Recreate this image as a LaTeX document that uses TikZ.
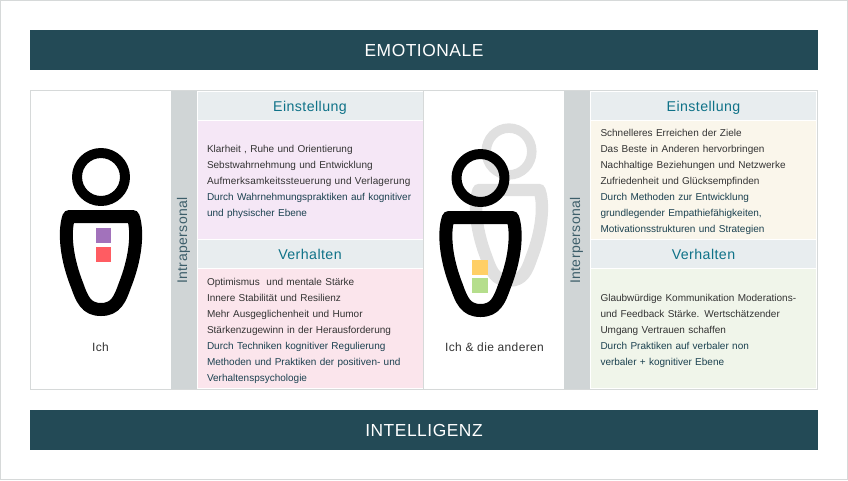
\documentclass[tikz,border=0pt]{standalone}
\usepackage{fontspec}
\setmainfont{Liberation Sans}
\newfontfamily\spacedfont[LetterSpace=3]{Liberation Sans}
\usepackage{tikz}
\definecolor{bandcol}{HTML}{234A56}
\definecolor{rulecol}{HTML}{D6D9D9}
\definecolor{barcol}{HTML}{D0D5D6}
\definecolor{headcol}{HTML}{E8EDEF}
\definecolor{headtxt}{HTML}{0F7288}
\definecolor{lilacbox}{HTML}{F5E7F6}
\definecolor{rosebox}{HTML}{FBE5EC}
\definecolor{creambox}{HTML}{FAF6EB}
\definecolor{greenbox}{HTML}{F0F5EA}
\definecolor{darktxt}{HTML}{333333}
\definecolor{tealtxt}{HTML}{1B4150}
\definecolor{purplechip}{HTML}{A272BB}
\definecolor{redchip}{HTML}{FF5C62}
\definecolor{orangechip}{HTML}{FFCF66}
\definecolor{greenchip}{HTML}{B5DE8C}
\tikzstyle{band}=[fill=bandcol, text=white, inner sep=0, minimum width=788pt, minimum height=40pt, text height=12.5pt, text depth=0pt, font=\spacedfont\fontsize{17.4}{20}\selectfont]
\tikzstyle{sidebar}=[fill=barcol, inner sep=0, minimum width=26pt, minimum height=298pt]
\tikzstyle{sidetext}=[rotate=90, text=tealtxt!85, inner sep=0, font=\spacedfont\fontsize{14}{16}\selectfont]
\tikzstyle{headbox}=[fill=headcol, text=headtxt, inner sep=0, minimum width=225pt, minimum height=28pt, text height=11pt, text depth=0pt, font=\spacedfont\fontsize{14.2}{16}\selectfont]
\tikzstyle{textbox}=[inner sep=0, minimum width=225pt, text width=206pt, align=left, text=darktxt, font=\fontsize{10}{16}\selectfont, execute at begin node={\rule{0pt}{11.5pt}\ignorespaces}]
\tikzstyle{caption}=[inner sep=0, text=darktxt, font=\spacedfont\fontsize{12}{14}\selectfont]
\tikzstyle{chip}=[inner sep=0, minimum width=15.5pt, minimum height=15pt]
\newcommand{\personfig}[4]{%
  \begin{scope}[shift={(#1,#2)}, xscale=#4, yscale={(1+#4)/2}, draw=#3, line join=round]
    \draw[line width=#4*10pt] (0,0) circle (24);
    \draw[line width=#4*13pt] (-32,39.5) -- (32,39.5)
      .. controls (36,50) and (37,75) .. (24,108)
      .. controls (19,122) and (15,132.5) .. (0,132.5)
      .. controls (-15,132.5) and (-19,122) .. (-24,108)
      .. controls (-37,75) and (-36,50) .. (-32,39.5) -- cycle;
  \end{scope}}
\begin{document}
\begin{tikzpicture}[x=1pt, y=-1pt]
  \useasboundingbox (0,0) rectangle (848,480);
  \draw[rulecol, line width=1.5pt] (0.5,0.5) rectangle (847.5,479.5);
  \node (top) at (424,50)[band] {EMOTIONALE};
  \node (bottom) at (424,430)[band] {INTELLIGENZ};
  % main frame
  \draw[rulecol, line width=1pt] (30.5,90.5) rectangle (817.5,389.5);
  \draw[rulecol, line width=1pt] (423.5,90.5) -- (423.5,389.5);
  \begin{scope}
    \node (barleft) at (184,240)[sidebar] {};
    \node (barright) at (577,240)[sidebar] {};
    \node (intra) at (183.5,240.5)[sidetext] {Intrapersonal};
    \node (inter) at (576.5,240.5)[sidetext] {Interpersonal};
  \end{scope}
  % left column
  \begin{scope}
    \node (headA) at (310,106)[headbox] {Einstellung};
    \node (boxA) at (310,180)[textbox, fill=lilacbox, minimum height=118pt] {
      Klarheit , Ruhe und Orientierung\\
      Sebstwahrnehmung und Entwicklung\\
      \mbox{\addfontfeature{LetterSpace=1.4}Aufmerksamkeitssteuerung und Verlagerung}\\
      \textcolor{tealtxt}{Durch Wahrnehmungspraktiken auf kognitiver}\\
      \textcolor{tealtxt}{und physischer Ebene}
    };
    \node (headB) at (310,254)[headbox] {Verhalten};
    \node (boxB) at (310,328.5)[textbox, fill=rosebox, minimum height=119pt] {
      Optimismus\ \ und mentale Stärke\\
      Innere Stabilität und Resilienz\\
      Mehr Ausgeglichenheit und Humor\\
      Stärkenzugewinn in der Herausforderung\\
      \textcolor{tealtxt}{Durch Techniken kognitiver Regulierung}\\
      \textcolor{tealtxt}{Methoden und Praktiken der positiven- und}\\
      \textcolor{tealtxt}{Verhaltenspsychologie}
    };
  \end{scope}
  % right column
  \begin{scope}
    \node (headC) at (703.5,106)[headbox] {Einstellung};
    \node (boxC) at (703.5,180)[textbox, fill=creambox, minimum height=118pt] {
      Schnelleres Erreichen der Ziele\\
      Das Beste in Anderen hervorbringen\\
      Nachhaltige Beziehungen und Netzwerke\\
      Zufriedenheit und Glücksempfinden\\
      \textcolor{tealtxt}{Durch Methoden zur Entwicklung}\\
      \textcolor{tealtxt}{grundlegender Empathiefähigkeiten,}\\
      \textcolor{tealtxt}{Motivationsstrukturen und Strategien}
    };
    \node (headD) at (703.5,254)[headbox] {Verhalten};
    \node (boxD) at (703.5,328.5)[textbox, fill=greenbox, minimum height=119pt] {
      Glaubwürdige Kommunikation Moderations-\\
      und Feedback Stärke. Wertschätzender\\
      Umgang Vertrauen schaffen\\
      \textcolor{tealtxt}{Durch Praktiken auf verbaler non}\\
      \textcolor{tealtxt}{verbaler + kognitiver Ebene}
    };
  \end{scope}
  % persons
  \personfig{509}{151.5}{black!12}{0.95}
  \personfig{101}{177}{black}{1}
  \personfig{480.5}{178}{black}{1}
  \node (purple) at (103.5,235)[chip, fill=purplechip] {};
  \node (red) at (103.5,254.5)[chip, fill=redchip] {};
  \node (orange) at (480,267.5)[chip, fill=orangechip] {};
  \node (green) at (480,285.5)[chip, fill=greenchip] {};
  \node (ich) at (100.5,347.5)[caption] {Ich};
  \node (ichother) at (494.5,347.5)[caption] {Ich \& die anderen};
\end{tikzpicture}
\end{document}
